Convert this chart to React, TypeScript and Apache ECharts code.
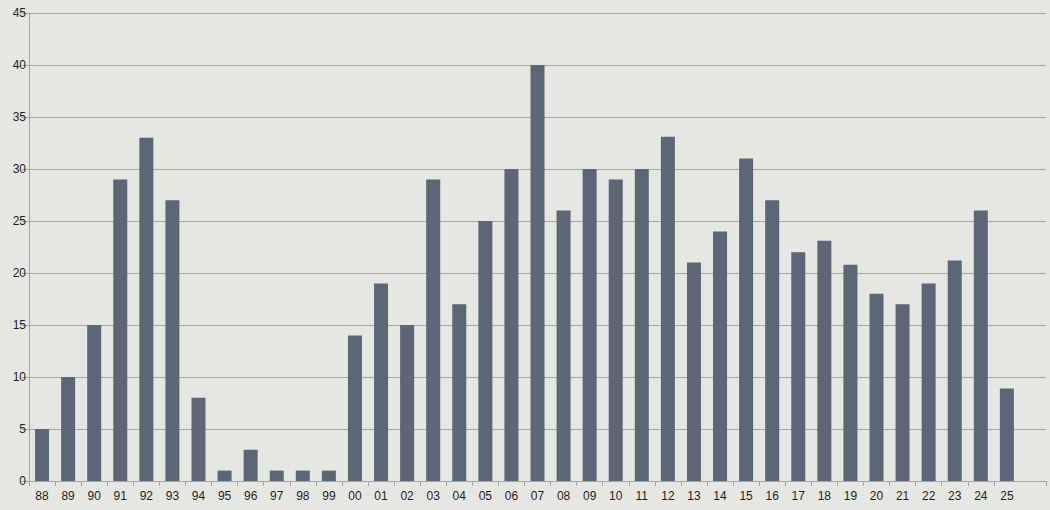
import React, { useEffect, useRef } from "react";
import * as echarts from "echarts";

const categories = [
  "88", "89", "90", "91", "92", "93", "94", "95", "96", "97", "98", "99",
  "00", "01", "02", "03", "04", "05", "06", "07", "08", "09", "10", "11",
  "12", "13", "14", "15", "16", "17", "18", "19", "20", "21", "22", "23",
  "24", "25", "",
];

const values = [
  5, 10, 15, 29, 33, 27, 8, 1, 3, 1, 1, 1,
  14, 19, 15, 29, 17, 25, 30, 40, 26, 30, 29, 30,
  33.1, 21, 24, 31, 27, 22, 23.1, 20.8, 18, 17, 19, 21.2,
  26, 8.9, null,
];

const yTicks = { min: 0, max: 45, interval: 5 };

export default function App() {
  const ref = useRef<HTMLDivElement>(null);
  useEffect(() => {
    document.body.style.margin = "0";
    const chart = echarts.init(ref.current!, null, { renderer: "svg" });
    chart.setOption({
      animation: false,
      backgroundColor: "#e6e7e2",
      textStyle: { fontFamily: "Liberation Sans" },
      grid: { left: 29, right: 4, top: 13, bottom: 29, containLabel: false },
      xAxis: {
        type: "category",
        data: categories,
        boundaryGap: true,
        axisLine: { show: true, lineStyle: { color: "#a0a5a9", width: 1 } },
        axisTick: {
          show: true,
          length: 5,
          lineStyle: { color: "#a0a5a9" },
          interval: (index: number) => index < 38,
        },
        axisLabel: {
          color: "#1e1e1e",
          fontSize: 12,
          margin: 9,
          interval: 0,
          fontFamily: "Liberation Sans",
        },
        splitLine: { show: false },
      },
      yAxis: {
        type: "value",
        min: yTicks.min,
        max: yTicks.max,
        interval: yTicks.interval,
        axisLine: { show: true, lineStyle: { color: "#a0a5a9", width: 1 } },
        axisTick: { show: true, length: 7, lineStyle: { color: "#a0a5a9" } },
        axisLabel: {
          color: "#1e1e1e",
          fontSize: 12,
          margin: 3,
          fontFamily: "Liberation Sans",
        },
        splitLine: { show: true, lineStyle: { color: "#a0a5a9", width: 1 } },
      },
      series: [
        {
          type: "bar",
          data: values,
          barWidth: 14,
          itemStyle: { color: "#5b6677" },
        },
      ],
    });
    return () => chart.dispose();
  }, []);
  return (
    <div
      ref={ref}
      style={{ position: "absolute", left: 0, top: 0, width: 1050, height: 510 }}
    />
  );
}
